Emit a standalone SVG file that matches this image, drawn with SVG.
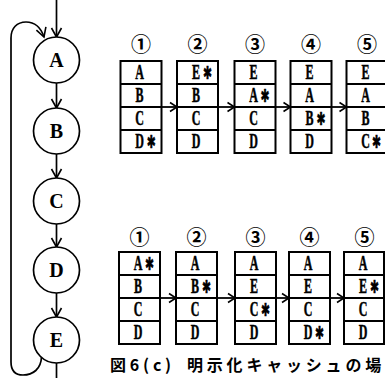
<svg xmlns="http://www.w3.org/2000/svg" width="385" height="378" viewBox="0 0 385 378">
<defs>
<style>
.bg{fill:#fff}
.node{fill:#fff;stroke:#000;stroke-width:1.7}
.nl{font-family:"Liberation Serif","DejaVu Serif",serif;font-weight:bold;font-size:20px;text-anchor:middle;fill:#000}
.tb{fill:#fff;stroke:#000;stroke-width:2}
.rl{stroke:#000;stroke-width:1.8}
.cl{font-family:"Liberation Serif","DejaVu Serif",serif;font-weight:bold;font-size:20px;text-anchor:middle;fill:#000;stroke:#000;stroke-width:0.5}
.as{font-family:"DejaVu Sans",sans-serif;font-size:18px}
.num{font-family:"Noto Sans CJK JP","DejaVu Sans",sans-serif;font-weight:bold;font-size:20px;text-anchor:middle;fill:#000}
.cap{font-family:"Noto Sans CJK JP",sans-serif;font-weight:bold;font-size:16px;letter-spacing:3.8px;fill:#000}
.ln{fill:none;stroke:#000;stroke-width:1.7}
.tl{fill:none;stroke:#000;stroke-width:1.8}
</style>
<marker id="ah" markerUnits="userSpaceOnUse" markerWidth="14" markerHeight="14" viewBox="-12 -7 14 14" refX="0" refY="0" orient="auto">
<path d="M-9,-5 L0,0 L-9,5" fill="none" stroke="#000" stroke-width="1.6"/>
</marker>
<marker id="ah2" markerUnits="userSpaceOnUse" markerWidth="12" markerHeight="12" viewBox="-10 -6 12 12" refX="0" refY="0" orient="auto">
<path d="M-7,-4.5 L0,0 L-7,4.5" fill="none" stroke="#000" stroke-width="1.6"/>
</marker>
</defs>
<rect class="bg" x="0" y="0" width="385" height="378"/>

<g id="connectors">
<line class="ln" x1="56.5" y1="0" x2="56.5" y2="37" marker-end="url(#ah)"/>
<line class="ln" x1="56.5" y1="83" x2="56.5" y2="108" marker-end="url(#ah)"/>
<line class="ln" x1="56.5" y1="154" x2="56.5" y2="178" marker-end="url(#ah)"/>
<line class="ln" x1="56.5" y1="224" x2="56.5" y2="247" marker-end="url(#ah)"/>
<line class="ln" x1="56.5" y1="293" x2="56.5" y2="317" marker-end="url(#ah)"/>
<line class="ln" x1="56.5" y1="363" x2="56.5" y2="378"/>
<path class="ln" d="M41.5,357 C41,369 33,375 23,375 C15,375 11,370 11,362 L11,38 C11,28 17,22 26,22 C35,22 41,28 44,37" marker-end="url(#ah)"/>
<line class="tl" x1="161.5" y1="107" x2="177" y2="107" marker-end="url(#ah2)"/>
<line class="tl" x1="218" y1="107" x2="234.5" y2="107" marker-end="url(#ah2)"/>
<line class="tl" x1="275.5" y1="107" x2="290.5" y2="107" marker-end="url(#ah2)"/>
<line class="tl" x1="331.5" y1="107" x2="346.5" y2="107" marker-end="url(#ah2)"/>
<line class="tl" x1="160" y1="298" x2="176" y2="298" marker-end="url(#ah2)"/>
<line class="tl" x1="217" y1="298" x2="235" y2="298" marker-end="url(#ah2)"/>
<line class="tl" x1="276" y1="298" x2="289" y2="298" marker-end="url(#ah2)"/>
<line class="tl" x1="330" y1="298" x2="344" y2="298" marker-end="url(#ah2)"/>
</g>

<g id="node-A"><circle class="node" cx="56.5" cy="60" r="23"/><text class="nl" x="56.5" y="67">A</text></g>
<g id="node-B"><circle class="node" cx="56.5" cy="131" r="23"/><text class="nl" x="56.5" y="138">B</text></g>
<g id="node-C"><circle class="node" cx="56.5" cy="201" r="23"/><text class="nl" x="56.5" y="208">C</text></g>
<g id="node-D"><circle class="node" cx="56.5" cy="270" r="23"/><text class="nl" x="56.5" y="277">D</text></g>
<g id="node-E"><circle class="node" cx="56.5" cy="340" r="23"/><text class="nl" x="56.5" y="347">E</text></g>

<g id="top-tables">
<g id="t1"><rect class="tb" x="120.5" y="61" width="41" height="92"/><line class="rl" x1="120.5" y1="84" x2="161.5" y2="84"/><line class="rl" x1="120.5" y1="107" x2="161.5" y2="107"/><line class="rl" x1="120.5" y1="130" x2="161.5" y2="130"/></g>
<g id="t2"><rect class="tb" x="177" y="61" width="41" height="92"/><line class="rl" x1="177" y1="84" x2="218" y2="84"/><line class="rl" x1="177" y1="107" x2="218" y2="107"/><line class="rl" x1="177" y1="130" x2="218" y2="130"/></g>
<g id="t3"><rect class="tb" x="234.5" y="61" width="41" height="92"/><line class="rl" x1="234.5" y1="84" x2="275.5" y2="84"/><line class="rl" x1="234.5" y1="107" x2="275.5" y2="107"/><line class="rl" x1="234.5" y1="130" x2="275.5" y2="130"/></g>
<g id="t4"><rect class="tb" x="290.5" y="61" width="41" height="92"/><line class="rl" x1="290.5" y1="84" x2="331.5" y2="84"/><line class="rl" x1="290.5" y1="107" x2="331.5" y2="107"/><line class="rl" x1="290.5" y1="130" x2="331.5" y2="130"/></g>
<g id="t5"><rect class="tb" x="346.5" y="61" width="41" height="92"/><line class="rl" x1="346.5" y1="84" x2="387.5" y2="84"/><line class="rl" x1="346.5" y1="107" x2="387.5" y2="107"/><line class="rl" x1="346.5" y1="130" x2="387.5" y2="130"/></g>
<text class="num" x="141" y="52">①</text>
<text class="num" x="197.5" y="52">②</text>
<text class="num" x="255" y="52">③</text>
<text class="num" x="311" y="52">④</text>
<text class="num" x="367" y="52">⑤</text>
<g transform="scale(0.6,1)">
<text class="cl" y="79"><tspan x="232.5">A</tspan></text>
<text class="cl" y="102"><tspan x="232.5">B</tspan></text>
<text class="cl" y="125"><tspan x="232.5">C</tspan></text>
<text class="cl" y="148"><tspan x="232.5">D</tspan><tspan class="as" x="252">✱</tspan></text>
<text class="cl" y="79"><tspan x="326.7">E</tspan><tspan class="as" x="346">✱</tspan></text>
<text class="cl" y="102"><tspan x="326.7">B</tspan></text>
<text class="cl" y="125"><tspan x="326.7">C</tspan></text>
<text class="cl" y="148"><tspan x="326.7">D</tspan></text>
<text class="cl" y="79"><tspan x="422.5">E</tspan></text>
<text class="cl" y="102"><tspan x="422.5">A</tspan><tspan class="as" x="441.7">✱</tspan></text>
<text class="cl" y="125"><tspan x="422.5">C</tspan></text>
<text class="cl" y="148"><tspan x="422.5">D</tspan></text>
<text class="cl" y="79"><tspan x="515.8">E</tspan></text>
<text class="cl" y="102"><tspan x="515.8">A</tspan></text>
<text class="cl" y="125"><tspan x="515.8">B</tspan><tspan class="as" x="535">✱</tspan></text>
<text class="cl" y="148"><tspan x="515.8">D</tspan></text>
<text class="cl" y="79"><tspan x="609.2">E</tspan></text>
<text class="cl" y="102"><tspan x="609.2">A</tspan></text>
<text class="cl" y="125"><tspan x="609.2">B</tspan></text>
<text class="cl" y="148"><tspan x="609.2">C</tspan><tspan class="as" x="627.5">✱</tspan></text>
</g>
</g>

<g id="bottom-tables">
<g id="b1"><rect class="tb" x="119" y="252" width="41" height="92"/><line class="rl" x1="119" y1="275" x2="160" y2="275"/><line class="rl" x1="119" y1="298" x2="160" y2="298"/><line class="rl" x1="119" y1="321" x2="160" y2="321"/></g>
<g id="b2"><rect class="tb" x="176" y="252" width="41" height="92"/><line class="rl" x1="176" y1="275" x2="217" y2="275"/><line class="rl" x1="176" y1="298" x2="217" y2="298"/><line class="rl" x1="176" y1="321" x2="217" y2="321"/></g>
<g id="b3"><rect class="tb" x="235" y="252" width="41" height="92"/><line class="rl" x1="235" y1="275" x2="276" y2="275"/><line class="rl" x1="235" y1="298" x2="276" y2="298"/><line class="rl" x1="235" y1="321" x2="276" y2="321"/></g>
<g id="b4"><rect class="tb" x="289" y="252" width="41" height="92"/><line class="rl" x1="289" y1="275" x2="330" y2="275"/><line class="rl" x1="289" y1="298" x2="330" y2="298"/><line class="rl" x1="289" y1="321" x2="330" y2="321"/></g>
<g id="b5"><rect class="tb" x="344" y="252" width="40" height="92"/><line class="rl" x1="344" y1="275" x2="384" y2="275"/><line class="rl" x1="344" y1="298" x2="384" y2="298"/><line class="rl" x1="344" y1="321" x2="384" y2="321"/></g>
<text class="num" x="139.5" y="245">①</text>
<text class="num" x="196.5" y="245">②</text>
<text class="num" x="255.5" y="245">③</text>
<text class="num" x="309.5" y="245">④</text>
<text class="num" x="364.5" y="245">⑤</text>
<g transform="scale(0.6,1)">
<text class="cl" y="270"><tspan x="230">A</tspan><tspan class="as" x="249.2">✱</tspan></text>
<text class="cl" y="293"><tspan x="230">B</tspan></text>
<text class="cl" y="316"><tspan x="230">C</tspan></text>
<text class="cl" y="339"><tspan x="230">D</tspan></text>
<text class="cl" y="270"><tspan x="325">A</tspan></text>
<text class="cl" y="293"><tspan x="325">B</tspan><tspan class="as" x="344.2">✱</tspan></text>
<text class="cl" y="316"><tspan x="325">C</tspan></text>
<text class="cl" y="339"><tspan x="325">D</tspan></text>
<text class="cl" y="270"><tspan x="423.3">A</tspan></text>
<text class="cl" y="293"><tspan x="423.3">E</tspan></text>
<text class="cl" y="316"><tspan x="423.3">C</tspan><tspan class="as" x="442.5">✱</tspan></text>
<text class="cl" y="339"><tspan x="423.3">D</tspan></text>
<text class="cl" y="270"><tspan x="513.3">A</tspan></text>
<text class="cl" y="293"><tspan x="513.3">E</tspan></text>
<text class="cl" y="316"><tspan x="513.3">C</tspan></text>
<text class="cl" y="339"><tspan x="513.3">D</tspan><tspan class="as" x="532.5">✱</tspan></text>
<text class="cl" y="270"><tspan x="605">A</tspan></text>
<text class="cl" y="293"><tspan x="605">E</tspan><tspan class="as" x="624.2">✱</tspan></text>
<text class="cl" y="316"><tspan x="605">C</tspan></text>
<text class="cl" y="339"><tspan x="605">D</tspan></text>
</g>
</g>

<text class="cap" y="370.5"><tspan x="110">図6(c)</tspan> <tspan x="187">明示化キャッシュの場</tspan></text>
</svg>
